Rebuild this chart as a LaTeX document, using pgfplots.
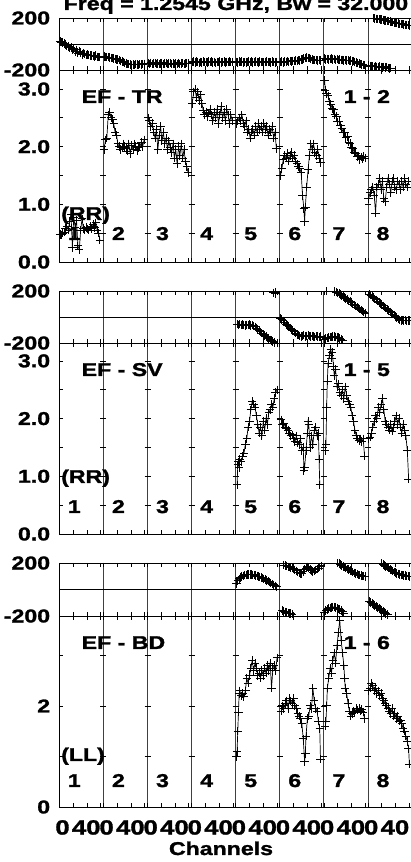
\documentclass[border=0pt]{standalone}
\usepackage{fontspec}
\setmainfont{Liberation Sans}[FakeStretch=1.25, BoldFeatures={FakeBold=1.5}]
\usepackage{pgfplots}
\pgfplotsset{compat=1.18}

\newcommand\fs{\fontsize{18.5}{20}\selectfont\bfseries}
\newcommand\fx{\fontsize{20.5}{22}\selectfont\bfseries}
\newcommand\lz{\hspace*{6.4pt}0}
\newcommand\lf{40\hspace*{1.2pt}}

\pgfplotsset{
  possm/.style={
    scale only axis, width=352.8pt, xmin=0, xmax=512, anchor=south west,
    axis line style={line width=0.8pt},
    tick align=inside, tick pos=both, major tick length=4pt,
    tick style={line width=0.7pt, black},
    xtick={0,20,40,60,64,84,104,124,128,148,168,188,192,212,232,252,256,276,296,316,320,340,360,380,384,404,424,444,448,468,488,508},
    xticklabels={},
    extra x ticks={64,128,192,256,320,384,448},
    extra x tick labels={},
    extra x tick style={grid=major, major grid style={line width=1pt, black!75}},
    ytick style={draw=none},
    yticklabel style={font=\fs, inner sep=0pt, anchor=east, xshift=-9pt},
    xticklabel style={font=\fx, inner sep=0pt, anchor=north, yshift=-13pt},
  },
  ph/.style={possm, height=#1, ymin=-200, ymax=200, ytick={-200,200}, yticklabels={-200,200},
    extra y ticks={0}, extra y tick labels={},
    extra y tick style={grid=major, major grid style={line width=0.8pt, black}}},
  amp/.style 2 args={possm, height=#1, ymin=0, ymax=#2},
  d/.style={black, line width=0.7pt, mark=+, mark size=4.2pt, mark options={line width=0.95pt},
    x filter/.expression={x+64*(#1-1)}},
}

\begin{document}
\begin{tikzpicture}[x=1pt, y=1pt]

% ---------------- EF - TR, phase
\begin{axis}[ph=52pt, at={(59.3pt,792pt)}]
\addplot[d=1] coordinates {(1,20)(3,15)(5,10)(7,5)(9,-5)(11,-15)(13,-20)(15,-30)(17,-25)(19,-45)(21,-35)(23,-60)(25,-45)(27,-70)(29,-55)(31,-65)(33,-80)(35,-70)(37,-75)(39,-85)(41,-80)(43,-85)(45,-90)(47,-88)(49,-92)(51,-95)(53,-90)(55,-98)(57,-100)(59,-102)};
\addplot[d=2] coordinates {(1,-95)(3,-98)(5,-100)(7,-102)(9,-105)(11,-108)(13,-110)(15,-112)(17,-115)(19,-118)(21,-120)(23,-125)(25,-130)(27,-135)(29,-140)(31,-145)(33,-150)(35,-152)(37,-155)(39,-158)(41,-160)(43,-158)(45,-160)(47,-155)(49,-158)(51,-160)(53,-156)(55,-158)(57,-155)(59,-152)};
\addplot[d=3] coordinates {(1,-148)(3,-152)(5,-145)(7,-155)(9,-150)(11,-147)(13,-153)(15,-149)(17,-156)(19,-151)(21,-146)(23,-154)(25,-150)(27,-148)(29,-155)(31,-151)(33,-147)(35,-153)(37,-150)(39,-156)(41,-149)(43,-152)(45,-146)(47,-154)(49,-150)(51,-148)(53,-153)(55,-151)(57,-147)(59,-150)};
\addplot[d=4] coordinates {(1,-140)(3,-136)(5,-142)(7,-135)(9,-139)(11,-144)(13,-137)(15,-141)(17,-134)(19,-140)(21,-138)(23,-143)(25,-136)(27,-140)(29,-135)(31,-141)(33,-138)(35,-144)(37,-137)(39,-139)(41,-135)(43,-142)(45,-138)(47,-136)(49,-141)(51,-137)(53,-140)(55,-135)(57,-139)(59,-137)};
\addplot[d=5] coordinates {(1,-138)(3,-142)(5,-136)(7,-140)(9,-135)(11,-141)(13,-137)(15,-143)(17,-138)(19,-135)(21,-140)(23,-136)(25,-142)(27,-138)(29,-134)(31,-139)(33,-141)(35,-136)(37,-140)(39,-137)(41,-143)(43,-138)(45,-135)(47,-140)(49,-137)(51,-142)(53,-136)(55,-139)(57,-141)(59,-137)};
\addplot[d=6] coordinates {(1,-140)(3,-136)(5,-141)(7,-135)(9,-138)(11,-133)(13,-137)(15,-132)(17,-135)(19,-130)(21,-133)(23,-128)(25,-130)(27,-125)(29,-128)(31,-120)(33,-118)(35,-112)(37,-108)(39,-104)(41,-106)(43,-110)(45,-115)(47,-120)(49,-122)(51,-125)(53,-123)(55,-126)(57,-124)(59,-127)};
\addplot[d=7] coordinates {(1,-112)(3,-118)(5,-114)(7,-120)(9,-116)(11,-113)(13,-119)(15,-115)(17,-121)(19,-117)(21,-122)(23,-119)(25,-124)(27,-121)(29,-126)(31,-123)(33,-128)(35,-125)(37,-130)(39,-128)(41,-134)(43,-132)(45,-138)(47,-141)(49,-146)(51,-150)(53,-155)(55,-158)(57,-160)(59,-163)};
\addplot[d=8] coordinates {(1,-165)(3,-170)(5,-168)(7,-172)(9,-175)(11,-170)(13,-175)(15,-178)(17,-172)(19,-176)(21,-180)(23,-175)(25,-182)(27,-178)(29,-185)(31,-188)(33,-185)};
\addplot[d=8] coordinates {(8,198)(10,195)(12,194)(14,192)(16,190)(18,188)(20,187)(22,185)(24,182)(26,180)(28,178)(30,175)(32,172)(34,170)(36,168)(38,165)(40,162)(42,160)(44,158)(46,155)(48,154)(50,152)(52,150)(54,148)(56,146)(58,145)(60,140)};
\end{axis}

% ---------------- EF - TR, amplitude
\begin{axis}[amp={192pt}{3.33}, at={(59.3pt,600pt)}, ytick={0,0.5,1,1.5,2,2.5,3}, yticklabels={0.0,,1.0,,2.0,,3.0}]
\addplot[d=1] coordinates {(1,.48)(3,.47)(5,.50)(7,.52)(9,.58)(11,.62)(13,.55)(15,.70)(17,.82)(19,.25)(21,.78)(23,.60)(25,.72)(27,.28)(29,.22)(31,.55)(33,.75)(35,.58)(37,.55)(39,.60)(41,.57)(43,.55)(45,.62)(47,.58)(49,.65)(51,.60)(53,.68)(55,.55)(57,.50)(59,.38)};
\addplot[d=2] coordinates {(1,1.95)(3,2.12)(5,2.15)(7,2.55)(9,2.60)(11,2.50)(13,2.48)(15,2.40)(17,2.25)(19,2.20)(21,2.05)(23,2.00)(25,1.95)(27,1.98)(29,2.05)(31,2.00)(33,1.97)(35,1.92)(37,2.05)(39,1.88)(41,2.02)(43,1.95)(45,2.05)(47,2.00)(49,1.93)(51,1.98)(53,2.00)(55,2.08)(57,2.00)(59,2.12)};
\addplot[d=3] coordinates {(1,2.50)(3,2.45)(5,2.35)(7,2.40)(9,2.25)(11,2.15)(13,2.30)(15,1.95)(17,2.20)(19,2.35)(21,2.10)(23,2.25)(25,2.05)(27,2.15)(29,1.95)(31,2.10)(33,1.98)(35,1.90)(37,2.05)(39,1.80)(41,1.95)(43,1.70)(45,2.00)(47,1.85)(49,2.05)(51,1.80)(53,1.95)(55,1.75)(57,1.65)(59,1.55)};
\addplot[d=4] coordinates {(1,2.75)(3,2.95)(5,3.00)(7,2.85)(9,2.95)(11,2.80)(13,2.90)(15,2.75)(17,2.62)(19,2.55)(21,2.60)(23,2.52)(25,2.58)(27,2.65)(29,2.55)(31,2.45)(33,2.60)(35,2.50)(37,2.65)(39,2.40)(41,2.55)(43,2.70)(45,2.50)(47,2.60)(49,2.45)(51,2.65)(53,2.55)(55,2.40)(57,2.55)(59,2.45)};
\addplot[d=5] coordinates {(1,2.40)(3,2.45)(5,2.50)(7,2.45)(9,2.55)(11,2.40)(13,2.35)(15,2.45)(17,2.25)(19,2.30)(21,2.15)(23,2.25)(25,2.30)(27,2.20)(29,2.35)(31,2.25)(33,2.40)(35,2.30)(37,2.35)(39,2.25)(41,2.40)(43,2.30)(45,2.35)(47,2.20)(49,2.30)(51,2.25)(53,2.35)(55,2.15)(57,2.25)(59,1.97)};
\addplot[d=6] coordinates {(1,1.50)(3,1.62)(5,1.78)(7,1.85)(9,1.80)(11,1.88)(13,1.75)(15,1.85)(17,1.90)(19,1.80)(21,1.85)(23,1.75)(25,1.70)(27,1.65)(29,1.62)(31,1.55)(33,1.15)(35,0.92)(36,0.70)(37,0.95)(39,1.30)(41,1.60)(43,1.85)(45,2.05)(47,1.95)(49,2.05)(51,1.90)(53,1.85)(55,1.95)(57,1.80)(59,1.72)};
\addplot[d=7] coordinates {(1,3.15)(2,2.98)(4,2.92)(6,2.88)(8,2.78)(10,2.74)(12,2.66)(14,2.64)(16,2.56)(18,2.52)(20,2.43)(22,2.44)(24,2.36)(26,2.32)(28,2.24)(30,2.25)(32,2.16)(34,2.17)(36,2.08)(38,2.06)(40,1.98)(42,1.97)(44,1.90)(46,1.89)(48,1.83)(50,1.84)(52,1.78)(54,1.82)(56,1.79)(58,1.83)(60,1.80)};
\addplot[d=8] coordinates {(1,1.10)(3,1.20)(5,1.25)(7,1.30)(9,1.15)(11,0.85)(13,1.30)(15,1.35)(17,1.45)(19,1.25)(21,1.40)(23,1.10)(25,1.05)(27,1.30)(29,1.45)(31,1.35)(33,1.20)(35,1.40)(37,1.45)(39,1.30)(41,1.25)(43,1.40)(45,1.35)(47,1.25)(49,1.40)(51,1.30)(53,1.45)(55,1.35)(57,1.30)(59,1.40)};
\end{axis}

% ---------------- EF - SV, phase
\begin{axis}[ph=52pt, at={(59.3pt,519pt)}]
\addplot[d=5] coordinates {(2,-55)(4,-60)(6,-55)(8,-62)(10,-58)(12,-60)(14,-65)(16,-60)(18,-62)(20,-58)(22,-65)(24,-62)(26,-70)(28,-75)(30,-85)(32,-95)(34,-105)(36,-115)(38,-125)(40,-135)(42,-145)(44,-150)(46,-160)(48,-165)(50,-175)(52,-180)(54,-190)(56,-195)};
\addplot[d=5] coordinates {(55,185)(57,192)(58,180)};
\addplot[d=6] coordinates {(1,-10)(3,-20)(5,-30)(7,-40)(9,-55)(11,-65)(13,-75)(15,-85)(17,-95)(19,-105)(21,-115)(23,-125)(25,-135)(27,-140)(29,-145)(31,-150)(33,-145)(35,-140)(37,-150)(39,-145)(41,-140)(43,-148)(45,-150)(47,-145)(49,-150)(51,-152)(53,-148)(55,-150)(57,-155)(59,-150)};
\addplot[d=7] coordinates {(1,-170)(3,-165)(5,-160)(7,-158)(9,-155)(11,-152)(13,-150)(15,-150)(17,-152)(19,-155)(21,-158)(23,-165)(25,-170)(27,-178)};
\addplot[d=7, only marks] coordinates {(4,198)};
\addplot[d=7] coordinates {(16,195)(18,190)(20,185)(22,180)(24,172)(26,165)(28,158)(30,150)(32,142)(34,135)(36,125)(38,118)(40,110)(42,100)(44,92)(46,85)(48,75)(50,68)(52,60)(54,52)(56,45)(58,38)(60,30)};
\addplot[d=8] coordinates {(2,175)(4,168)(6,158)(8,150)(10,140)(12,132)(14,122)(16,112)(18,104)(20,95)(22,85)(24,76)(26,68)(28,58)(30,50)(32,40)(34,32)(36,22)(38,14)(40,5)(42,-5)(44,-15)(46,-22)(48,-28)(50,-25)(52,-28)(54,-25)(56,-30)(58,-27)(60,-28)};
\end{axis}

% ---------------- EF - SV, amplitude
\begin{axis}[amp={191pt}{3.31}, at={(59.3pt,328pt)}, ytick={0,0.5,1,1.5,2,2.5,3}, yticklabels={0.0,,1.0,,2.0,,3.0}]
\addplot[d=5] coordinates {(2,0.85)(3,1.20)(4,1.25)(5,1.15)(6,1.30)(8,1.25)(10,1.35)(12,1.40)(14,1.55)(16,1.65)(18,1.85)(20,1.95)(22,2.15)(24,2.30)(26,2.25)(28,2.20)(30,2.05)(32,1.90)(34,1.75)(36,1.85)(38,1.70)(40,1.95)(42,1.80)(44,2.00)(46,1.90)(48,2.10)(50,2.15)(52,2.25)(54,2.20)(56,2.35)(58,2.45)(60,2.50)};
\addplot[d=6] coordinates {(2,1.98)(4,1.90)(6,1.92)(8,1.85)(10,1.82)(12,1.80)(14,1.75)(16,1.70)(18,1.72)(20,1.65)(22,1.60)(24,1.70)(26,1.58)(28,1.55)(30,1.65)(32,1.45)(34,1.50)(35,1.10)(36,1.15)(38,1.45)(40,1.75)(41,1.95)(42,1.90)(44,1.50)(46,1.70)(48,1.55)(50,1.80)(52,1.85)(54,1.70)(56,1.75)(57,1.30)(58,0.85)};
\addplot[d=7] coordinates {(2,1.45)(3,1.55)(4,2.20)(5,2.65)(6,2.95)(8,3.10)(10,3.20)(11,3.05)(12,3.15)(14,2.90)(15,2.75)(17,2.85)(19,2.55)(21,2.60)(23,2.45)(25,2.40)(27,2.50)(29,2.35)(31,2.55)(33,2.40)(35,2.30)(37,2.25)(39,2.20)(41,2.05)(43,1.95)(45,1.80)(47,1.70)(49,1.65)(51,1.62)(53,1.65)(55,1.60)(57,1.65)(59,1.35)};
\addplot[d=8] coordinates {(1,1.65)(3,1.68)(5,1.75)(7,1.85)(9,1.95)(11,2.05)(13,2.00)(15,2.20)(17,2.10)(19,2.25)(21,2.35)(23,2.15)(25,1.95)(27,1.90)(29,1.85)(31,1.80)(33,1.90)(35,1.78)(37,1.85)(39,1.95)(41,2.05)(43,1.90)(45,2.00)(47,1.85)(49,1.75)(51,1.90)(53,1.80)(55,1.70)(57,1.45)(59,0.95)};
\end{axis}

% ---------------- EF - BD, phase
\begin{axis}[ph=53pt, at={(59.3pt,246pt)}]
\addplot[d=5] coordinates {(1,45)(3,65)(5,80)(7,90)(9,98)(11,103)(13,108)(15,110)(17,112)(19,113)(21,113)(23,112)(25,110)(27,108)(29,105)(31,102)(33,98)(35,95)(37,90)(39,85)(41,80)(43,75)(45,68)(47,62)(49,55)(51,48)(53,40)(55,35)(57,28)(59,20)};
\addplot[d=6] coordinates {(4,-160)(6,-165)(8,-170)(10,-175)(12,-178)(14,-180)(16,-182)(18,-185)};
\addplot[d=6] coordinates {(6,185)(8,180)(10,178)(12,172)(14,168)(16,165)(18,160)(20,155)(22,148)(24,140)(26,132)(28,125)(30,118)(32,122)(34,135)(36,150)(38,162)(40,172)(42,165)(44,152)(46,140)(48,132)(50,138)(52,148)(54,155)(56,162)(58,170)(60,178)};
\addplot[d=7] coordinates {(1,-170)(3,-160)(5,-150)(7,-142)(9,-138)(11,-135)(13,-132)(15,-132)(17,-135)(19,-140)(21,-145)(23,-152)(25,-160)(27,-168)(29,-178)};
\addplot[d=7] coordinates {(20,198)(22,195)(24,188)(26,182)(28,175)(30,170)(32,163)(34,155)(36,150)(38,143)(40,138)(42,132)(44,125)(46,120)(48,115)(50,110)(52,108)(54,105)(56,102)(58,100)(60,98)};
\addplot[d=8] coordinates {(2,-90)(4,-98)(6,-105)(8,-112)(10,-120)(12,-128)(14,-135)(16,-142)(18,-150)(20,-158)(22,-165)(24,-172)(26,-180)(28,-188)};
\addplot[d=8] coordinates {(20,198)(22,190)(24,182)(26,175)(28,168)(30,160)(32,152)(34,145)(36,138)(38,132)(40,128)(42,122)(44,118)(46,112)(48,110)(50,108)(52,105)(54,105)(56,102)(58,100)(60,98)};
\end{axis}

% ---------------- EF - BD, amplitude
\begin{axis}[amp={191pt}{3.78}, at={(59.3pt,55pt)}, ytick={0,1,2,3}, yticklabels={0,,2,},
  xticklabels={\lz,,\lf,,\lz,,\lf,,\lz,,\lf,,\lz,,\lf,,\lz,,\lf,,\lz,,\lf,,\lz,,\lf,,\lz,,\lf,}]
\addplot[d=5] coordinates {(1,1.00)(2,1.10)(3,1.50)(4,1.88)(5,2.25)(6,2.30)(8,2.20)(10,2.25)(12,2.18)(14,2.30)(16,2.55)(18,2.45)(20,2.60)(22,2.75)(24,2.90)(26,2.70)(28,2.85)(30,2.75)(32,2.60)(34,2.65)(36,2.55)(38,2.70)(40,2.60)(42,2.75)(44,2.65)(46,2.80)(48,2.70)(50,2.85)(52,2.35)(54,2.75)(56,2.80)(58,2.70)(60,2.95)};
\addplot[d=6] coordinates {(2,1.90)(4,2.00)(6,1.95)(8,2.05)(10,2.10)(12,1.95)(14,2.15)(16,2.10)(18,2.05)(20,2.15)(22,2.00)(24,1.95)(26,1.85)(28,1.80)(30,1.75)(32,1.65)(34,1.35)(36,0.90)(37,1.05)(38,1.40)(40,1.75)(42,1.80)(44,2.00)(46,1.95)(48,2.35)(50,2.10)(52,1.95)(54,1.90)(56,1.70)(58,1.55)(59,0.95)};
\addplot[d=7] coordinates {(2,1.60)(3,1.70)(4,2.00)(5,2.35)(7,2.55)(9,2.75)(11,2.65)(13,2.90)(15,3.05)(17,2.85)(19,3.20)(21,3.45)(23,3.70)(25,3.30)(27,3.05)(29,2.80)(30,2.55)(31,2.35)(33,2.25)(35,2.05)(37,1.90)(39,1.80)(41,1.85)(43,1.90)(45,1.88)(47,1.95)(49,1.92)(51,1.95)(53,1.90)(55,1.93)(57,1.88)(59,1.75)};
\addplot[d=8] coordinates {(1,2.30)(3,2.35)(5,2.45)(7,2.40)(9,2.30)(11,2.35)(13,2.25)(15,2.30)(17,2.20)(19,2.25)(21,2.15)(23,2.10)(25,2.05)(27,2.00)(29,1.95)(31,1.90)(33,1.85)(35,1.95)(37,1.80)(39,1.85)(41,1.75)(43,1.80)(45,1.70)(47,1.72)(49,1.65)(51,1.55)(53,1.50)(55,1.40)(57,1.30)(59,1.15)(60,0.85)};
\end{axis}

% y ticks on the IF separators of the amplitude panels
\foreach \yb/\s in {600/57.67, 328/57.67} {
  \foreach \j in {1,...,6} {
    \draw[line width=0.7pt] (59.3,{\yb+\s*0.5*\j}) -- ++(4,0);
    \foreach \k in {1,...,7} \draw[line width=0.7pt] ({59.3+44.1*\k-3},{\yb+\s*0.5*\j}) -- ++(6,0);
  }
}
\foreach \j in {1,2,3} {
  \draw[line width=0.7pt] (59.3,{55+50.5*\j}) -- ++(4,0);
  \foreach \k in {1,...,7} \draw[line width=0.7pt] ({59.3+44.1*\k-3},{55+50.5*\j}) -- ++(6,0);
}

% labels
\begin{scope}[every node/.style={font=\fs, inner sep=0pt}]
\node[anchor=base west] at (63.5,852) {Freq = 1.2545 GHz, Bw = 32.000 MHz};
\node[anchor=base west] at (81.5,759) {EF - TR};
\node[anchor=base west] at (343.5,759) {1 - 2};
\node[anchor=base west] at (61,642) {(RR)};
\node[anchor=base west] at (81.5,486) {EF - SV};
\node[anchor=base west] at (343.5,486) {1 - 5};
\node[anchor=base west] at (61,379) {(RR)};
\node[anchor=base west] at (81.5,213) {EF - BD};
\node[anchor=base west] at (343.5,213) {1 - 6};
\node[anchor=base west] at (61,101) {(LL)};
\foreach \k in {1,...,8} {
  \node[anchor=base] at ({59.3+44.1*(\k-1)+15},622) {\k};
  \node[anchor=base] at ({59.3+44.1*(\k-1)+15},349) {\k};
  \node[anchor=base] at ({59.3+44.1*(\k-1)+15},75) {\k};
}
\node[anchor=base] at (221,7) {Channels};
\end{scope}

\pgfresetboundingbox
\useasboundingbox (0,0) rectangle (411,862);
\end{tikzpicture}
\end{document}
